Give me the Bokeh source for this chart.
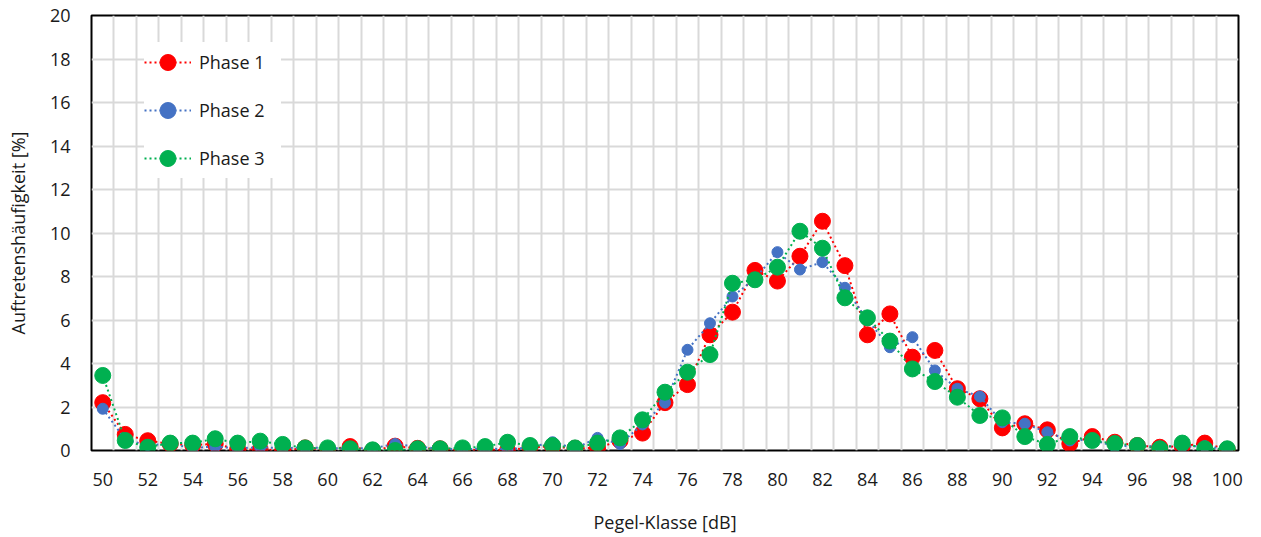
from bokeh.plotting import figure
from bokeh.models import Range1d, FixedTicker, Legend, LegendItem
from bokeh.embed import file_html
from bokeh.resources import INLINE

classes = list(range(50, 101))

phase1 = [2.2, 0.74, 0.45, 0.3, 0.25, 0.3, 0.05, 0.05, 0.0, 0.12, 0.05, 0.18, 0.0, 0.2, 0.1,
          0.08, 0.0, 0.05, 0.0, 0.15, 0.18, 0.1, 0.12, 0.45, 0.8, 2.2, 3.03, 5.32, 6.36, 8.28,
          7.79, 8.93, 10.54, 8.5, 5.32, 6.28, 4.29, 4.6, 2.84, 2.38, 1.04, 1.23, 0.95, 0.31, 0.64,
          0.38, 0.23, 0.15, 0.2, 0.34, 0.05]
phase2 = [1.92, 0.5, 0.25, 0.3, 0.12, 0.18, 0.1, 0.15, 0.1, 0.15, 0.1, 0.1, 0.1, 0.3, 0.18,
          0.08, 0.05, 0.1, 0.05, 0.15, 0.38, 0.1, 0.58, 0.3, 1.2, 2.2, 4.63, 5.85, 7.08, 7.9,
          9.12, 8.32, 8.66, 7.48, 6.0, 4.75, 5.21, 3.68, 2.84, 2.48, 1.3, 1.23, 0.84, 0.46, 0.5,
          0.18, 0.23, 0.18, 0.18, 0.2, 0.05]
phase3 = [3.45, 0.46, 0.15, 0.34, 0.34, 0.54, 0.34, 0.43, 0.28, 0.12, 0.12, 0.08, 0.03, 0.0, 0.08,
          0.08, 0.12, 0.18, 0.38, 0.23, 0.23, 0.12, 0.34, 0.58, 1.41, 2.68, 3.6, 4.41, 7.69, 7.85,
          8.43, 10.08, 9.3, 7.02, 6.1, 5.03, 3.75, 3.17, 2.45, 1.61, 1.5, 0.64, 0.28, 0.64, 0.46,
          0.32, 0.23, 0.08, 0.34, 0.08, 0.08]

x_ticks = list(range(50, 101, 2))
y_ticks = list(range(0, 21, 2))

FONT = "Open Sans"
FS = "18px"

p = figure(width=1245, height=536, output_backend="svg", toolbar_location=None,
           x_range=Range1d(49.5, 100.5), y_range=Range1d(0, 20),
           min_border_left=91, min_border_right=7, min_border_top=15, min_border_bottom=86)

p.outline_line_color = "black"
p.outline_line_width = 2

p.xaxis.ticker = FixedTicker(ticks=x_ticks)
p.yaxis.ticker = FixedTicker(ticks=y_ticks)
p.xgrid.ticker = FixedTicker(ticks=[c + 0.5 for c in range(49, 101)])
p.ygrid.ticker = FixedTicker(ticks=y_ticks)
for g in (p.xgrid, p.ygrid):
    g.grid_line_color = "#d9d9d9"
    g.grid_line_width = 2

for ax in (p.xaxis, p.yaxis):
    ax.axis_line_color = None
    ax.major_tick_line_color = None
    ax.minor_tick_line_color = None
    ax.major_tick_out = 0
    ax.major_label_text_font = FONT
    ax.major_label_text_font_size = FS
    ax.major_label_text_color = "#1a1a1a"
    ax.axis_label_text_font = FONT
    ax.axis_label_text_font_size = FS
    ax.axis_label_text_font_style = "normal"
    ax.axis_label_text_color = "#1a1a1a"

p.xaxis.axis_label = "Pegel-Klasse [dB]"
p.yaxis.axis_label = "Auftretenshäufigkeit [%]"
p.xaxis.major_label_standoff = 22
p.yaxis.major_label_standoff = 21
p.xaxis.axis_label_standoff = 21
p.yaxis.axis_label_standoff = 17

series = [("Phase 1", phase1, "#ff0000", 16),
          ("Phase 2", phase2, "#4472c4", 11),
          ("Phase 3", phase3, "#00b050", 16)]

items = []
for name, vals, col, sz in series:
    ln = p.line(classes, vals, line_color=col, line_width=2, line_dash="2 3")
    sc = p.scatter(classes, vals, size=sz, fill_color=col, line_color=col)
    items.append(LegendItem(label=name, renderers=[ln, sc]))

legend = Legend(items=items, location=(53, 272), margin=0, padding=14, spacing=8,
                glyph_width=47, glyph_height=40, label_height=20, label_standoff=8,
                label_width=82,
                label_text_font=FONT, label_text_font_size=FS, label_text_color="#1a1a1a",
                border_line_color=None, background_fill_color="white", background_fill_alpha=1.0)
p.add_layout(legend)

open("out.html", "w").write(file_html(p, INLINE))
